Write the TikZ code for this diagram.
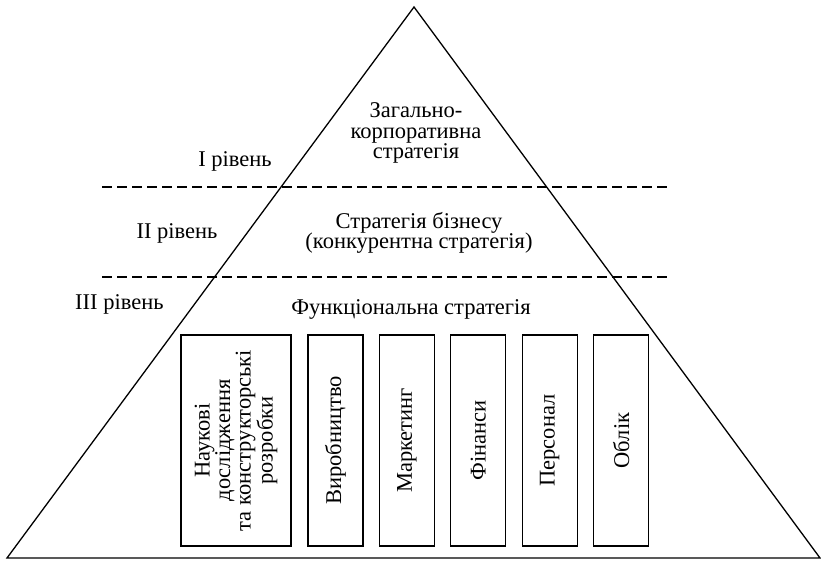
\documentclass[tikz,border=0pt]{standalone}
\usepackage{fontspec}
\setmainfont{Liberation Serif}
\usetikzlibrary{positioning}

\begin{document}
\begin{tikzpicture}
[x=1pt,y=-1pt,
 lbl/.style={font=\fontsize{22.5}{20.5}\selectfont,align=center,inner sep=0pt},
 funcbox/.style={draw,line width=1.3pt,rotate=90,minimum width=211pt,
   minimum height=55pt,inner sep=0pt,font=\fontsize{22.5}{20.5}\selectfont,align=center},
 level/.style={dash pattern=on 10pt off 5pt,line width=1.3pt}]
\useasboundingbox (0,0) rectangle (821,561);
% pyramid
\coordinate (apex) at (414,7);
\coordinate (bl) at (7,558);
\coordinate (br) at (820,558);
\draw[line width=1.3pt,line join=miter] (apex) -- (br) -- (bl) -- cycle;
% level borders
\coordinate (d1l) at (102,187);
\coordinate (d1r) at (671,187);
\coordinate (d2l) at (102,277);
\coordinate (d2r) at (671,277);
\draw[level] (d1l) -- (d1r);
\draw[level] (d2l) -- (d2r);
% texts
\node[lbl](corp) at (416,133){Загально-\\корпоративна\\стратегія};
\node[lbl](lev1) at (235,161){І рівень};
\node[lbl](bus) at (419,233){Стратегія бізнесу\\(конкурентна стратегія)};
\node[lbl](lev2) at (177,233){ІІ рівень};
\node[lbl,anchor=west](lev3) at (75,304){ІІІ рівень};
\node[lbl](func) at (411,309){Функціональна стратегія};
% functional boxes
\node[funcbox,minimum height=110pt](rd) at (236,440.5)
  {Наукові\\дослідження\\та конструкторські\\розробки};
\foreach \name/\txt [count=\i] in {prod/Виробництво,mark/Маркетинг,
  fin/Фінанси,pers/Персонал,acc/Облік}
  \node[funcbox](\name) at (335.5+71.4*\i-71.4,440.5){\txt};
\end{tikzpicture}
\end{document}
